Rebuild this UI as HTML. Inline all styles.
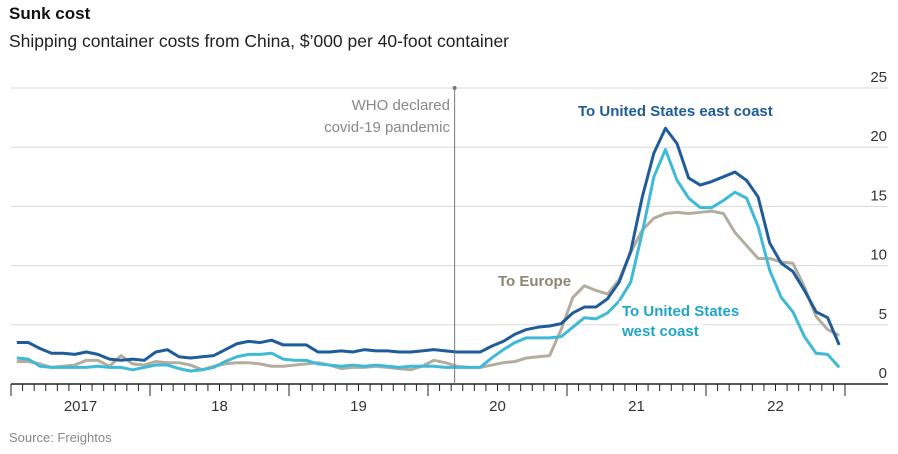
<!DOCTYPE html>
<html><head><meta charset="utf-8"><style>
body{margin:0;background:#fff;width:898px;height:449px;overflow:hidden;font-family:"Liberation Sans",sans-serif}
svg text{font-family:"Liberation Sans",sans-serif}
</style></head><body>
<svg id="c" width="898" height="449">
<text x="9" y="19" font-size="17" font-weight="bold" fill="#111">Sunk cost</text>
<text x="9" y="47" font-size="17.5" fill="#222">Shipping container costs from China, $’000 per 40-foot container</text>
<text x="9" y="442" font-size="13" fill="#888">Source: Freightos</text>
<g id="grid"></g><g id="axis"></g><g id="series"></g><g id="ann"></g>
</svg>
<script>
const yTicks=[0,5,10,15,20,25];
const yearLabels=["2017","18","19","20","21","22"];
const east=[3.5,3.5,3.0,2.6,2.6,2.5,2.7,2.5,2.1,2.0,2.1,2.0,2.7,2.9,2.3,2.2,2.3,2.4,2.9,3.4,3.6,3.5,3.7,3.3,3.3,3.3,2.7,2.7,2.8,2.7,2.9,2.8,2.8,2.7,2.7,2.8,2.9,2.8,2.7,2.7,
2.7,3.2,3.6,4.2,4.6,4.8,4.9,5.1,6.0,6.5,6.5,7.2,8.6,11.2,15.8,19.5,21.6,20.3,17.4,16.8,17.1,17.5,17.9,17.2,15.8,11.9,10.2,9.5,7.9,6.1,5.6,3.3];
const west=[2.2,2.1,1.5,1.4,1.4,1.4,1.4,1.5,1.4,1.4,1.2,1.4,1.6,1.6,1.3,1.1,1.2,1.4,1.9,2.3,2.5,2.5,2.6,2.1,2.0,2.0,1.7,1.6,1.5,1.6,1.5,1.6,1.5,1.4,1.5,1.5,1.5,1.4,1.4,1.4,
1.4,2.2,2.9,3.5,3.9,3.9,3.9,4.0,4.8,5.6,5.5,6.0,7.0,8.6,12.8,17.5,19.8,17.2,15.7,14.9,14.9,15.5,16.2,15.7,13.3,9.6,7.3,6.1,4.0,2.6,2.5,1.4];
const europe=[1.9,1.9,1.7,1.4,1.5,1.6,2.0,2.0,1.5,2.4,1.7,1.6,1.9,1.8,1.8,1.6,1.2,1.5,1.7,1.8,1.8,1.7,1.5,1.5,1.6,1.7,1.8,1.6,1.3,1.4,1.4,1.5,1.4,1.3,1.2,1.5,2.0,1.8,1.5,1.4,
1.4,1.6,1.8,1.9,2.2,2.3,2.4,4.6,7.3,8.3,7.9,7.6,8.8,11.1,13.0,14.0,14.4,14.5,14.4,14.5,14.6,14.4,12.8,11.7,10.6,10.6,10.3,10.2,8.2,5.7,4.6,4.1];
const whoMonth=38.3;
const NS="http://www.w3.org/2000/svg";
const X0=11,MW=139/12,Y0=384,YU=11.84;
const xs=i=>X0+(i+0.5)*MW, xm=m=>X0+m*MW, ys=v=>Y0-v*YU;
function mk(p,t,a){const e=document.createElementNS(NS,t);for(const k in a)e.setAttribute(k,a[k]);p.appendChild(e);return e;}
const grid=document.getElementById('grid'),axis=document.getElementById('axis'),ser=document.getElementById('series'),ann=document.getElementById('ann');
yTicks.forEach(v=>{
 if(v>0){const l=mk(grid,'line',{x1:11,x2:888,y1:ys(v),y2:ys(v),stroke:'#d8d8d8','stroke-width':1});
 
 }
 const t=mk(grid,'text',{x:887,y:ys(v)-6,'text-anchor':'end','font-size':15,fill:'#333'});t.textContent=v;
 
 
});
const ax=mk(axis,'line',{x1:11,x2:888,y1:Y0,y2:Y0,stroke:'#222','stroke-width':1.5});


for(let m=0;m<=72;m++){const maj=m%12===0;
 const t=mk(axis,'line',{x1:xm(m),x2:xm(m),y1:Y0,y2:Y0+(maj?12:7),stroke:'#222','stroke-width':1});
 
 }
yearLabels.forEach((s,k)=>{const t=mk(axis,'text',{x:xm(k*12+6),y:Y0+27,'text-anchor':'middle','font-size':15,fill:'#333'});t.textContent=s;
 
 });
const wx=xm(whoMonth);
const wl=mk(ann,'line',{x1:wx,x2:wx,y1:88,y2:Y0,stroke:'#777','stroke-width':1});


const wd=mk(ann,'circle',{cx:wx,cy:88,r:2,fill:'#777'});


function txt(s,x,y,fill,anchor,name,bg,w){
 if(bg){const r=mk(ann,'rect',{x:anchor==='end'?x-w:x-3,y:y-15,width:w+3,height:20,fill:'#fff'});
 
 }
 const t=mk(ann,'text',{x:x,y:y,'font-size':15,fill:fill,'text-anchor':anchor});t.textContent=s;
 
 }
txt('WHO declared',450,110,'#888','end','who-label-line1',true,132);
txt('covid-19 pandemic',450,132,'#888','end','who-label-line2',true,135);
[['europe',europe,'#b2ad9f'],['west',west,'#3fbad6'],['east',east,'#1f5c99']].forEach(([n,d,c])=>{
 const p=mk(ser,'polyline',{points:d.map((v,i)=>xs(i)+','+ys(v)).join(' '),fill:'none',stroke:c,'stroke-width':3,'stroke-linejoin':'round'});
 
 
});
txt('To United States east coast',578,116,'#1f5c99','start','label-east-coast',true,195);
txt('To Europe',498,286,'#8c8672','start','label-europe',false,0);
txt('To United States',622,316,'#1fa6c4','start','label-west-coast-1',true,122);
txt('west coast',622,336,'#1fa6c4','start','label-west-coast-2',true,80);
document.querySelectorAll('#ann text').forEach(t=>{if(!t.getAttribute('fill').includes('888'))t.setAttribute('font-weight','bold');});
</script>
</body></html>
